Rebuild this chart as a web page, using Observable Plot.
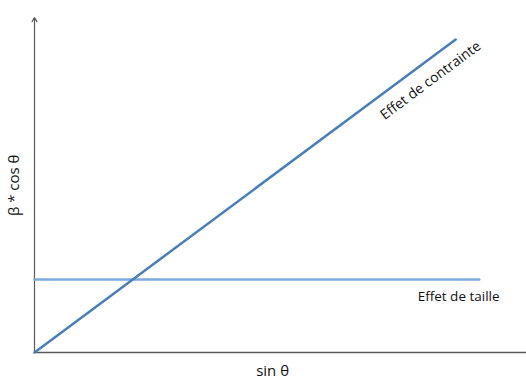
<!DOCTYPE html>
<html>
<head>
<meta charset="utf-8">
<script src="https://cdn.jsdelivr.net/npm/d3@7"></script>
<script src="https://cdn.jsdelivr.net/npm/@observablehq/plot@0.6"></script>
<style>
  html, body { margin: 0; padding: 0; background: #fff; }
  svg { display: block; }
</style>
</head>
<body>
<div id="chart"></div>
<script>
// Series: endpoints (arbitrary 0–10 units)
const contrainteX = [0, 8.56];
const contrainteY = [0, 9.34];
const tailleX = [0, 9.04];
const tailleY = [2.18, 2.18];

// Labels
const seriesLabels = ["Effet de contrainte", "Effet de taille"];
const labelX = [8.05, 8.62];
const labelY = [8.12, 1.67];
const xTitle = "sin θ";
const yTitle = "β * cos θ";

const contrainte = contrainteX.map((x, i) => ({x, y: contrainteY[i]}));
const taille = tailleX.map((x, i) => ({x, y: tailleY[i]}));

const font = "'Open Sans', 'Liberation Sans', sans-serif";

const chart = Plot.plot({
  width: 526,
  height: 379,
  marginLeft: 34,
  marginRight: 0,
  marginTop: 17,
  marginBottom: 27,
  style: {fontFamily: font, background: "#fff", overflow: "visible"},
  x: {domain: [0, 10], axis: null},
  y: {domain: [0, 10], axis: null},
  marks: [
    Plot.ruleY([0], {stroke: "#595959", strokeWidth: 1.5}),
    Plot.arrow([0], {x1: 0, y1: 0, x2: 0, y2: 10, stroke: "#595959", strokeWidth: 1.2, headLength: 6}),
    Plot.line(taille, {x: "x", y: "y", stroke: "#7ea9de", strokeWidth: 2.5}),
    Plot.line(contrainte, {x: "x", y: "y", stroke: "#4a7ebb", strokeWidth: 2.5}),
    Plot.text([seriesLabels[0]], {x: [labelX[0]], y: [labelY[0]], text: d => d, rotate: -36.6, fontSize: 14, fill: "#111"}),
    Plot.text([seriesLabels[1]], {x: [labelX[1]], y: [labelY[1]], text: d => d, fontSize: 13.5, fill: "#111"}),
    Plot.text([xTitle], {x: [4.84], y: [-0.55], text: d => d, fontSize: 15, fill: "#111"}),
    Plot.text([yTitle], {x: [-0.41], y: [4.99], text: d => d, rotate: -90, fontSize: 15, fill: "#111"})
  ]
});
document.getElementById("chart").append(chart);
</script>
</body>
</html>
